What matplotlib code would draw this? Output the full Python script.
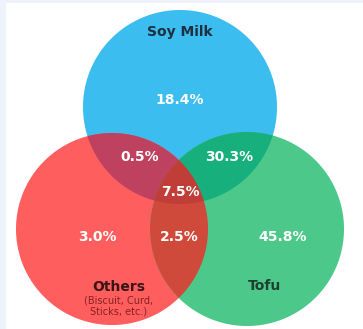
import numpy as np
import matplotlib
matplotlib.use("Agg")
import matplotlib.pyplot as plt
from matplotlib.patches import Polygon, Rectangle

# ---- data ----
set_names = ["Soy Milk", "Others", "Tofu"]
others_sub = "(Biscuit, Curd,\nSticks, etc.)"
region_labels = {
    "S": "18.4%",
    "O": "3.0%",
    "T": "45.8%",
    "SO": "0.5%",
    "ST": "30.3%",
    "OT": "2.5%",
    "SOT": "7.5%",
}

# ---- layout (pixel coordinates, y downwards) ----
W, H = 363, 329
circles = {
    "S": (180, 107, 97),
    "O": (112, 229, 96),
    "T": (247, 229, 97),
}
colors = {
    "S": "#3BBDEF",
    "O": "#FF5E5E",
    "T": "#4CC98A",
    "SO": "#BE415F",
    "ST": "#17B07C",
    "OT": "#D04A3C",
    "SOT": "#C13D38",
}
label_pos = {
    "S": (180, 100),
    "O": (97, 237),
    "T": (283, 237),
    "SO": (140, 157),
    "ST": (229, 157),
    "OT": (179, 237),
    "SOT": (180, 192),
}


def circle_poly(c, n=720):
    x, y, r = c
    t = np.linspace(0, 2 * np.pi, n, endpoint=False)
    return np.column_stack([x + r * np.cos(t), y + r * np.sin(t)])


def clip(subject, clipper):
    # Sutherland-Hodgman clipping (clipper convex)
    def inside(p, a, b):
        return (b[0] - a[0]) * (p[1] - a[1]) - (b[1] - a[1]) * (p[0] - a[0]) >= 0

    def inter(p1, p2, a, b):
        x1, y1 = p1; x2, y2 = p2; x3, y3 = a; x4, y4 = b
        den = (x1 - x2) * (y3 - y4) - (y1 - y2) * (x3 - x4)
        t = ((x1 - x3) * (y3 - y4) - (y1 - y3) * (x3 - x4)) / den
        return (x1 + t * (x2 - x1), y1 + t * (y2 - y1))

    out = [tuple(p) for p in subject]
    n = len(clipper)
    for i in range(n):
        a = clipper[i]; b = clipper[(i + 1) % n]
        inp = out
        out = []
        if not inp:
            break
        s = inp[-1]
        for e in inp:
            if inside(e, a, b):
                if not inside(s, a, b):
                    out.append(inter(s, e, a, b))
                out.append(e)
            elif inside(s, a, b):
                out.append(inter(s, e, a, b))
            s = e
    return np.array(out)


fig = plt.figure(figsize=(W / 100, H / 100), dpi=100)
ax = fig.add_axes([0, 0, 1, 1])
ax.set_xlim(0, W)
ax.set_ylim(H, 0)
ax.axis("off")
fig.patch.set_facecolor("white")

# faint frame strips
ax.add_patch(Rectangle((0, 0), W, 3, color="#EEF2FA", lw=0, zorder=0))
ax.add_patch(Rectangle((0, 0), 6, H, color="#EEF2FA", lw=0, zorder=0))

polys = {k: circle_poly(v) for k, v in circles.items()}
for k in ["S", "O", "T"]:
    ax.add_patch(Polygon(polys[k], closed=True, fc=colors[k], ec="none", zorder=1))
for k, (a, b) in {"SO": ("S", "O"), "ST": ("S", "T"), "OT": ("O", "T")}.items():
    p = clip(polys[a], polys[b])
    ax.add_patch(Polygon(p, closed=True, fc=colors[k], ec="none", zorder=2))
p = clip(clip(polys["S"], polys["O"]), polys["T"])
ax.add_patch(Polygon(p, closed=True, fc=colors["SOT"], ec="none", zorder=3))

for k, txt in region_labels.items():
    x, y = label_pos[k]
    ax.text(x, y, txt, color="white", fontsize=10, fontweight="bold",
            ha="center", va="center", zorder=5)

ax.text(180, 32, set_names[0], color="#1F2F3F", fontsize=10, fontweight="bold",
        ha="center", va="center", zorder=5)
ax.text(264, 286, set_names[2], color="#1F3F2F", fontsize=10, fontweight="bold",
        ha="center", va="center", zorder=5)
ax.text(119, 287, set_names[1], color="#3A1515", fontsize=10, fontweight="bold",
        ha="center", va="center", zorder=5)
ax.text(119, 306, others_sub, color="#8A2020", fontsize=7,
        ha="center", va="center", linespacing=1.05, zorder=5)

fig.savefig("out.png", dpi=100)
